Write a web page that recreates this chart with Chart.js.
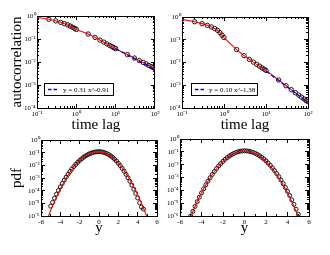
<!DOCTYPE html>
<html>
<head>
<meta charset="utf-8">
<script src="https://cdn.jsdelivr.net/npm/chart.js@4.4.1/dist/chart.umd.min.js"></script>
<style>
    body { margin: 0; background: #fff; width: 330px; height: 255px; overflow: hidden; position: relative; }
    canvas { position: absolute; }
</style>
</head>
<body>
<canvas id="acfLeftChart" width="165" height="136" style="left:0;top:0"></canvas>
<canvas id="acfRightChart" width="165" height="136" style="left:165px;top:0"></canvas>
<canvas id="pdfLeftChart" width="165" height="127" style="left:0;top:128px"></canvas>
<canvas id="pdfRightChart" width="165" height="127" style="left:165px;top:128px"></canvas>
<script>
// upper panels: autocorrelation against time lag
var lags = [0.1, 0.2, 0.3, 0.4, 0.5, 0.6, 0.7, 0.8, 0.9, 1, 2, 3, 4, 5, 6, 7, 8, 9,
    10, 20, 30, 40, 50, 60, 70, 80, 90, 100];
var acfLeft = [0.88, 0.72, 0.61, 0.53, 0.465, 0.41, 0.365, 0.325, 0.29, 0.26,
    0.165, 0.117, 0.09, 0.073, 0.061, 0.053, 0.047, 0.042,
    0.038, 0.021, 0.0148, 0.0116, 0.0096, 0.0082, 0.0071, 0.0063, 0.0057, 0.0051];
var acfRight = [0.79, 0.62, 0.51, 0.43, 0.365, 0.31, 0.26, 0.205, 0.16, 0.125,
    0.037, 0.02, 0.0138, 0.0104, 0.0083, 0.0069, 0.0058, 0.0051,
    0.0045, 0.0017, 0.00095, 0.00064, 0.00047, 0.00037, 0.0003, 0.00025, 0.00021, 0.00019];
var fitLags = [10, 100];
var fitLeft = [0.038, 0.0047];
var fitRight = [0.0042, 0.000174];
var fitLeftLabel = "y = 0.31 x^-0.91";
var fitRightLabel = "y = 0.10 x^-1.38";

// lower panels: pdf against y
var curveY = [-6, -5.5, -5, -4.5, -4, -3.5, -3, -2.5, -2, -1.5, -1, -0.5, 0,
    0.5, 1, 1.5, 2, 2.5, 3, 3.5, 4, 4.5, 5, 5.5, 6];
var curveLeft = [2.1e-8, 2.7e-7, 2.73e-6, 2.2e-5, 1.42e-4, 7.3e-4, 2.99e-3, 9.75e-3, 0.0253,
    0.0524, 0.0864, 0.1135, 0.1188, 0.099, 0.0658, 0.0348, 0.0147, 4.93e-3, 1.32e-3,
    2.81e-4, 4.78e-5, 6.5e-6, 7.0e-7, 6.0e-8, 4.1e-9];
var curveRight = [5.1e-9, 7.6e-8, 9.1e-7, 8.5e-6, 6.34e-5, 3.72e-4, 1.72e-3, 6.29e-3, 0.0182,
    0.0415, 0.0749, 0.1067, 0.12, 0.1067, 0.0749, 0.0415, 0.0182, 6.29e-3, 1.72e-3,
    3.72e-4, 6.34e-5, 8.5e-6, 9.1e-7, 7.6e-8, 5.1e-9];

var sampleLeftY = [-5, -4.8, -4.6, -4.4, -4.2, -4, -3.8, -3.6, -3.4, -3.2, -3, -2.8, -2.6,
    -2.4, -2.2, -2, -1.8, -1.6, -1.4, -1.2, -1, -0.8, -0.6, -0.4, -0.2, 0,
    0.2, 0.4, 0.6, 0.8, 1, 1.2, 1.4, 1.6, 1.8, 2, 2.2, 2.4, 2.6, 2.8, 3,
    3.2, 3.4, 3.6, 3.8, 4, 4.2, 4.4, 4.6];
var pdfLeft = [6e-6, 1.19e-5, 2.53e-5, 5.2e-5, 1.03e-4, 1.99e-4, 3.72e-4, 6.73e-4, 1.18e-3,
    2.0e-3, 3.28e-3, 5.21e-3, 8.03e-3, 0.012, 0.0173, 0.0242, 0.0328, 0.0431, 0.0548,
    0.0675, 0.0804, 0.0929, 0.1039, 0.1126, 0.1181, 0.12, 0.1175, 0.1103, 0.0993, 0.0857,
    0.0709, 0.0562, 0.0428, 0.0312, 0.0218, 0.0146, 0.0094, 5.78e-3, 3.42e-3, 1.94e-3,
    1.05e-3, 5.48e-4, 2.74e-4, 1.31e-4, 6.0e-5, 2.64e-5, 1.11e-5, 5e-6, 3.5e-6];

var sampleRightY = [-5, -4.8, -4.6, -4.4, -4.2, -4, -3.8, -3.6, -3.4, -3.2, -3, -2.8, -2.6,
    -2.4, -2.2, -2, -1.8, -1.6, -1.4, -1.2, -1, -0.8, -0.6, -0.4, -0.2, 0,
    0.2, 0.4, 0.6, 0.8, 1, 1.2, 1.4, 1.6, 1.8, 2, 2.2, 2.4, 2.6, 2.8, 3,
    3.2, 3.4, 3.6, 3.8, 4, 4.2, 4.4, 4.6, 4.8, 5];
var pdfRight = [1.0e-6, 2.29e-6, 5.56e-6, 1.3e-5, 2.92e-5, 6.34e-5, 1.32e-4, 2.66e-4, 5.14e-4,
    9.58e-4, 1.72e-3, 2.97e-3, 4.94e-3, 7.93e-3, 0.01224, 0.0182, 0.026, 0.0359, 0.0476,
    0.0608, 0.0749, 0.0887, 0.1013, 0.1113, 0.1178, 0.12, 0.1178, 0.1116, 0.1019, 0.0897,
    0.0762, 0.0624, 0.0492, 0.0375, 0.0275, 0.0195, 0.0133, 8.75e-3, 5.56e-3, 3.4e-3,
    2.01e-3, 1.14e-3, 6.27e-4, 3.32e-4, 1.69e-4, 8.33e-5, 3.96e-5, 1.81e-5, 7.98e-6,
    3.4e-6, 1.4e-6];

// major tick values
var lagTicks = [0.1, 1, 10, 100];
var acfTicks = [1e-4, 1e-3, 1e-2, 1e-1, 1];
var pdfTicks = [1e-6, 1e-5, 1e-4, 1e-3, 1e-2, 1e-1, 1];
var yTicks = [-6, -4, -2, 0, 2, 4, 6];

var serif = '"Liberation Serif", "Times New Roman", serif';

var sup = { "-": "\u207B", "0": "\u2070", "1": "\u00B9", "2": "\u00B2", "3": "\u00B3",
    "4": "\u2074", "5": "\u2075", "6": "\u2076", "7": "\u2077", "8": "\u2078", "9": "\u2079" };

function pow10Label(v) {
    var e = String(Math.round(Math.log10(v)));
    return "10" + e.split("").map(function (c) { return sup[c]; }).join("");
}

// 2..9 inside each decade
function logMinor(major) {
    var out = [];
    for (var i = 0; i < major.length - 1; i++)
        for (var k = 2; k < 10; k++) out.push(major[i] * k);
    return out;
}

function linMinor(major) {
    var out = [];
    for (var i = 0; i < major.length - 1; i++) out.push((major[i] + major[i + 1]) / 2);
    return out;
}

function pts(xs, ys) {
    return xs.map(function (x, i) { return { x: x, y: ys[i] }; });
}

// one axis; ticks point into the plot (negative tick length)
function axis(pos, type, min, max, ticks, len, size, weight) {
    return {
        type: type, position: pos, min: min, max: max, display: true, weight: weight,
        afterBuildTicks: function (s) { s.ticks = ticks.map(function (v) { return { value: v }; }); },
        afterFit: function (s) { if (s.isHorizontal()) s.height = size; else s.width = size; },
        grid: { drawOnChartArea: false, drawTicks: true, tickLength: -len, tickColor: "#000", tickWidth: 1 },
        border: { display: true, color: "#000", width: 1 },
        ticks: { display: false, autoSkip: false }
    };
}

function labelled(ax, fmt, pad) {
    ax.ticks = {
        display: true, autoSkip: false, maxRotation: 0, padding: pad, color: "#000",
        font: { family: serif, size: 7 },
        callback: function (v) { return fmt(v); }
    };
    return ax;
}

var fitLegend = {
    id: "fitLegend",
    afterDraw: function (chart, args, o) {
        if (!o.text) return;
        var ctx = chart.ctx, a = chart.chartArea;
        var x = Math.round(a.left + o.dx), y = Math.round(a.top + o.dy);
        ctx.save();
        ctx.fillStyle = "#fff";
        ctx.fillRect(x, y, o.w, o.h);
        ctx.strokeStyle = "#000";
        ctx.lineWidth = 1;
        ctx.strokeRect(x + 0.5, y + 0.5, o.w, o.h);
        ctx.strokeStyle = "#0000ff";
        ctx.lineWidth = 1.3;
        ctx.setLineDash([3.5, 2]);
        ctx.beginPath();
        ctx.moveTo(x + 4, y + o.h / 2 + 0.5);
        ctx.lineTo(x + 15, y + o.h / 2 + 0.5);
        ctx.stroke();
        ctx.setLineDash([]);
        ctx.fillStyle = "#000";
        ctx.font = "7px " + serif;
        ctx.textBaseline = "middle";
        ctx.fillText(o.text, x + o.tx, y + o.h / 2 + 1);
        ctx.restore();
    }
};

function makePanel(id, p) {
    var xMin = p.xTicks[0], xMax = p.xTicks[p.xTicks.length - 1];
    var yMin = p.yTicks[0], yMax = p.yTicks[p.yTicks.length - 1];
    var xMinorTicks = p.xType === "logarithmic" ? logMinor(p.xTicks) : linMinor(p.xTicks);
    var yMinorTicks = logMinor(p.yTicks);
    var xFmt = p.xType === "logarithmic" ? pow10Label : function (v) { return String(v); };

    var x = labelled(axis("bottom", p.xType, xMin, xMax, p.xTicks, 4, p.xSize, 1), xFmt, 5.5);
    if (p.xTitle) x.title = { display: true, text: p.xTitle, color: "#000",
        font: { family: serif, size: 15 }, padding: { top: 0, bottom: p.xTitlePad } };
    var y = labelled(axis("left", "logarithmic", yMin, yMax, p.yTicks, 4, p.ySize, 1), pow10Label, 5.5);
    if (p.yTitle) y.title = { display: true, text: p.yTitle, color: "#000",
        font: { family: serif, size: 15 }, padding: { top: p.yTitlePad, bottom: 0 } };

    var datasets = p.datasets.map(function (d) {
        return Object.assign({ xAxisID: "x", yAxisID: "y" }, d);
    });

    return new Chart(document.getElementById(id), {
        type: "scatter",
        data: { datasets: datasets },
        options: {
            responsive: false, animation: false, devicePixelRatio: 1, events: [],
            layout: { padding: p.padding },
            plugins: { legend: { display: false }, tooltip: { enabled: false }, fitLegend: p.legend || {} },
            scales: {
                x: x,
                xm: axis("bottom", p.xType, xMin, xMax, xMinorTicks, 2, 0, 0),
                xt: axis("top", p.xType, xMin, xMax, p.xTicks, 4, 0, 0),
                xtm: axis("top", p.xType, xMin, xMax, xMinorTicks, 2, 0, 0),
                y: y,
                ym: axis("left", "logarithmic", yMin, yMax, yMinorTicks, 2, 0, 0),
                yr: axis("right", "logarithmic", yMin, yMax, p.yTicks, 4, 0, 0),
                yrm: axis("right", "logarithmic", yMin, yMax, yMinorTicks, 2, 0, 0)
            }
        },
        plugins: [fitLegend]
    });
}

function fitSet(xs, ys) {
    return { data: pts(xs, ys), showLine: true, borderColor: "#0000ff", borderWidth: 1.3,
        borderDash: [4, 2.5], pointRadius: 0, fill: false };
}
function curveSet(xs, ys) {
    return { data: pts(xs, ys), showLine: true, borderColor: "#ff0000", borderWidth: 1.1,
        pointRadius: 0, fill: false, tension: 0 };
}
function circleSet(xs, ys, r) {
    return { data: pts(xs, ys), showLine: false, pointStyle: "circle", pointRadius: r,
        pointBorderColor: "#000", pointBackgroundColor: "rgba(0,0,0,0)", pointBorderWidth: 0.9 };
}

makePanel("acfLeftChart", {
    xType: "logarithmic", xTicks: lagTicks, yTicks: acfTicks,
    xSize: 28, ySize: 37, xTitle: "time lag", xTitlePad: 2, yTitle: "autocorrelation", yTitlePad: 8,
    padding: { left: 0, top: 16, right: 8, bottom: 0 },
    legend: { text: fitLeftLabel, dx: 7, dy: 67, w: 69, h: 12, tx: 19 },
    datasets: [fitSet(fitLags, fitLeft), curveSet(lags, acfLeft),
        circleSet(lags.slice(1), acfLeft.slice(1), 2.2)]
});

makePanel("acfRightChart", {
    xType: "logarithmic", xTicks: lagTicks, yTicks: acfTicks,
    xSize: 28, ySize: 17, xTitle: "time lag", xTitlePad: 2,
    padding: { left: 0, top: 17, right: 22, bottom: 0 },
    legend: { text: fitRightLabel, dx: 9, dy: 66, w: 66, h: 12, tx: 18 },
    datasets: [fitSet(fitLags, fitRight), curveSet(lags, acfRight),
        circleSet(lags.slice(1), acfRight.slice(1), 2.2)]
});

makePanel("pdfLeftChart", {
    xType: "linear", xTicks: yTicks, yTicks: pdfTicks,
    xSize: 39, ySize: 41, xTitle: "y", xTitlePad: 18, yTitle: "pdf", yTitlePad: 8,
    padding: { left: 0, top: 12, right: 8, bottom: 0 },
    datasets: [curveSet(curveY, curveLeft), circleSet(sampleLeftY, pdfLeft, 2)]
});

makePanel("pdfRightChart", {
    xType: "linear", xTicks: yTicks, yTicks: pdfTicks,
    xSize: 39, ySize: 15, xTitle: "y", xTitlePad: 18,
    padding: { left: 0, top: 11, right: 21, bottom: 0 },
    datasets: [curveSet(curveY, curveRight), circleSet(sampleRightY, pdfRight, 2)]
});
</script>
</body>
</html>
